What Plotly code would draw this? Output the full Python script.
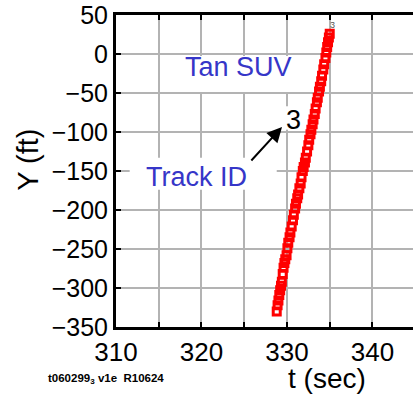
import plotly.graph_objects as go

# track 3 samples
t_sec = [328.80, 328.90, 329.00, 329.10, 329.20, 329.30, 329.40, 329.50, 329.60, 329.70,
         329.80, 329.95, 330.05, 330.15, 330.30, 330.40, 330.55, 330.70, 330.80, 330.95,
         331.05, 331.20, 331.30, 331.45, 331.60, 331.70, 331.85, 331.95, 332.10, 332.20,
         332.35, 332.50, 332.60, 332.75, 332.85, 333.00, 333.10, 333.25, 333.35, 333.50,
         333.60, 333.75, 333.85, 334.00, 334.10, 334.25, 334.35, 334.50, 334.60, 334.70,
         334.80, 334.90, 335.00]
y_ft = [-330, -322, -316, -309, -303, -297, -292, -282, -274, -268,
        -263, -258, -249, -242, -235, -229, -221, -213, -206, -198,
        -192, -185, -180, -172, -166, -158, -150, -145, -139, -133,
        -125, -117, -110, -103, -97, -90, -84, -77, -70, -62,
        -56, -48, -42, -35, -28, -20, -13, -5, 2, 9,
        15, 21, 26]
track_id = "3"

x_ticks = [310, 315, 320, 325, 330, 335, 340]
x_labels = ["310", "", "320", "", "330", "", "340"]
y_ticks = [50, 0, -50, -100, -150, -200, -250, -300, -350]

FONT = "Liberation Sans, Arial, sans-serif"
BLUE = "#3636c8"

fig = go.Figure()
fig.add_trace(go.Scatter(
    x=t_sec, y=y_ft, mode="markers",
    marker=dict(symbol="square-open", size=7, color="red", line=dict(width=3, color="red")),
    showlegend=False,
))

# white boxes behind the labels (hide grid)
for x0, x1, y0, y1 in [(315.4, 331.75, -2.6, -48.7), (311.6, 328.8, -133, -174), (329.7, 331.6, -67, -97)]:
    fig.add_shape(type="rect", x0=x0, x1=x1, y0=y0, y1=y1, xref="x", yref="y",
                  fillcolor="white", line=dict(width=0), layer="between")

fig.add_annotation(x=324.27, y=-16.7, text="Tan SUV", showarrow=False,
                   font=dict(family=FONT, size=27, color=BLUE))
fig.add_annotation(x=319.47, y=-157.7, text="Track ID", showarrow=False,
                   font=dict(family=FONT, size=27, color=BLUE))
fig.add_annotation(x=330.75, y=-84.6, text=track_id, showarrow=False,
                   font=dict(family=FONT, size=27, color="black"))
fig.add_annotation(x=329.42, y=-93.6, ax=325.67, ay=-138.5, axref="x", ayref="y",
                   text="", showarrow=True, arrowhead=2, arrowsize=1.5, arrowwidth=2,
                   arrowcolor="black")
fig.add_annotation(x=t_sec[-1] + 0.3, y=y_ft[-1] + 11, text=track_id, showarrow=False,
                   font=dict(family=FONT, size=9, color="#555555"))

# axis titles and footnote
fig.add_annotation(x=-0.297, y=0.535, xref="paper", yref="paper", xanchor="center", yanchor="middle",
                   text="Y (ft)", textangle=-90,
                   showarrow=False, font=dict(family=FONT, size=29, color="black"))
fig.add_annotation(x=0.712, y=-0.166, xref="paper", yref="paper", xanchor="center", yanchor="middle",
                   text="t (sec)", showarrow=False, font=dict(family=FONT, size=28, color="black"))
fig.add_annotation(x=-0.235, y=-0.168, xref="paper", yref="paper", xanchor="left", yanchor="middle",
                   text="<b>t060299<sub>3</sub> v1e  R10624</b>",
                   showarrow=False, font=dict(family=FONT, size=11.5, color="black"))

fig.update_xaxes(range=[310, 344.74], tickvals=x_ticks, ticktext=x_labels,
                 showgrid=True, gridcolor="#b3b3b3", gridwidth=2, zeroline=False,
                 showline=True, linecolor="black", linewidth=3, mirror="ticks",
                 ticks="inside", ticklen=5, tickwidth=2, tickcolor="black",
                 tickfont=dict(family=FONT, size=26, color="black"))
fig.update_yaxes(range=[-350, 50], tickvals=y_ticks,
                 showgrid=True, gridcolor="#b3b3b3", gridwidth=2, zeroline=False,
                 showline=True, linecolor="black", linewidth=3,
                 ticks="inside", ticklen=5, tickwidth=2, tickcolor="black",
                 tickfont=dict(family=FONT, size=25, color="black"))

fig.update_layout(width=413, height=394, margin=dict(l=116, r=0, t=15, b=67),
                  plot_bgcolor="white", paper_bgcolor="white")

# page has a default 8px body margin; drop it so the figure sits at the window corner
fig.write_html("out.html", config={"displayModeBar": False},
               post_script="document.body.style.margin='0';")
